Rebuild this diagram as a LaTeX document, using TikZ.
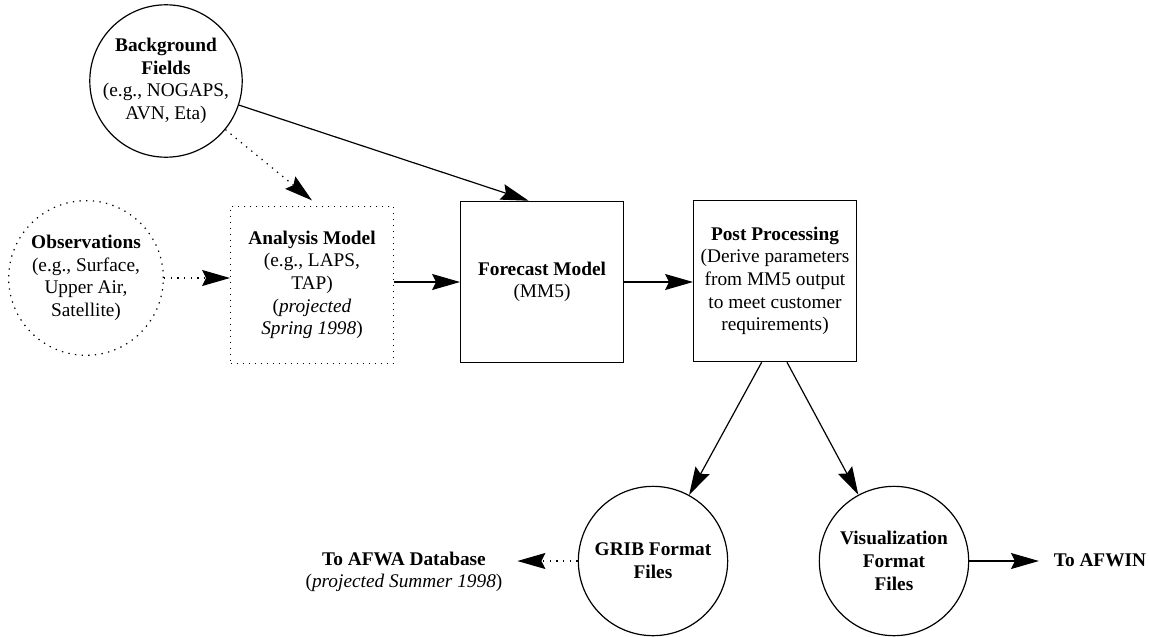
\documentclass[tikz,border=0pt]{standalone}
\usepackage{fontspec}
\setmainfont{Liberation Serif}
\usetikzlibrary{arrows.meta,shapes}
\tikzstyle{circ}=[circle,draw,line width=0.9pt,minimum size=112pt,inner sep=0pt,align=center]
\tikzstyle{dotted circ}=[circ,dash pattern=on 1pt off 4pt]
\tikzstyle{box}=[rectangle,draw,line width=0.9pt,minimum width=122pt,minimum height=121pt,align=center]
\tikzstyle{dotted box}=[box,dash pattern=on 1pt off 3.5pt]
\tikzstyle{arrow}=[draw,line width=0.9pt,-{Stealth[length=21pt,width=12pt,inset=3pt]}]
\tikzstyle{dotted arrow}=[arrow,dash pattern=on 1pt off 4pt]
\tikzstyle{dest}=[inner xsep=11pt,align=center]

\begin{document}
\begin{tikzpicture}[x=0.75pt,y=-0.75pt,font=\fontsize{14.5}{17}\selectfont]
    \useasboundingbox (0,0) rectangle (1150,636);
    % inputs
    \node[circ] (bg) at (166,81) {\textbf{Background}\\\textbf{Fields}\\(e.g., NOGAPS,\\AVN, Eta)};
    \node[dotted circ,minimum size=116pt] (obs) at (86,278) {\textbf{Observations}\\(e.g., Surface,\\Upper Air,\\Satellite)};
    % models
    \node[dotted box,minimum height=118pt] (an) at (312,285) {\textbf{Analysis Model}\\(e.g., LAPS,\\TAP)\\(\textit{projected}\\\textit{Spring 1998})};
    \node[box] (fc) at (542,282) {\textbf{Forecast Model}\\(MM5)};
    \node[box] (pp) at (775,281) {\textbf{Post Processing}\\(Derive parameters\\from MM5 output\\to meet customer\\requirements)};
    % outputs
    \node[circ] (grib) at (653,561) {\textbf{GRIB Format}\\\textbf{Files}};
    \node[circ] (vis) at (894,561) {\textbf{Visualization}\\\textbf{Format}\\\textbf{Files}};
    \node[dest] (afwa) at (404,572) {\textbf{To AFWA Database}\\(\textit{projected Summer 1998})};
    \node[dest] (afwin) at (1100,560) {\textbf{To AFWIN}};

    \path[arrow] (bg) -- ([xshift=-10pt]fc.north);
    \path[dotted arrow] (bg) -- ([yshift=4pt]an.north);
    \path[dotted arrow] (obs.east) -- (obs.east -| an.west);
    \path[arrow] (an.east |- fc) -- (fc.west);
    \path[arrow] (fc.east) -- (fc.east -| pp.west);
    \path[arrow] ([xshift=-10pt]pp.south) -- (grib);
    \path[arrow] ([xshift=9pt]pp.south) -- (vis);
    \path[dotted arrow] (grib.west) -- (grib.west -| afwa.east);
    \path[arrow] (vis.east) -- (vis.east -| afwin.west);
\end{tikzpicture}
\end{document}
